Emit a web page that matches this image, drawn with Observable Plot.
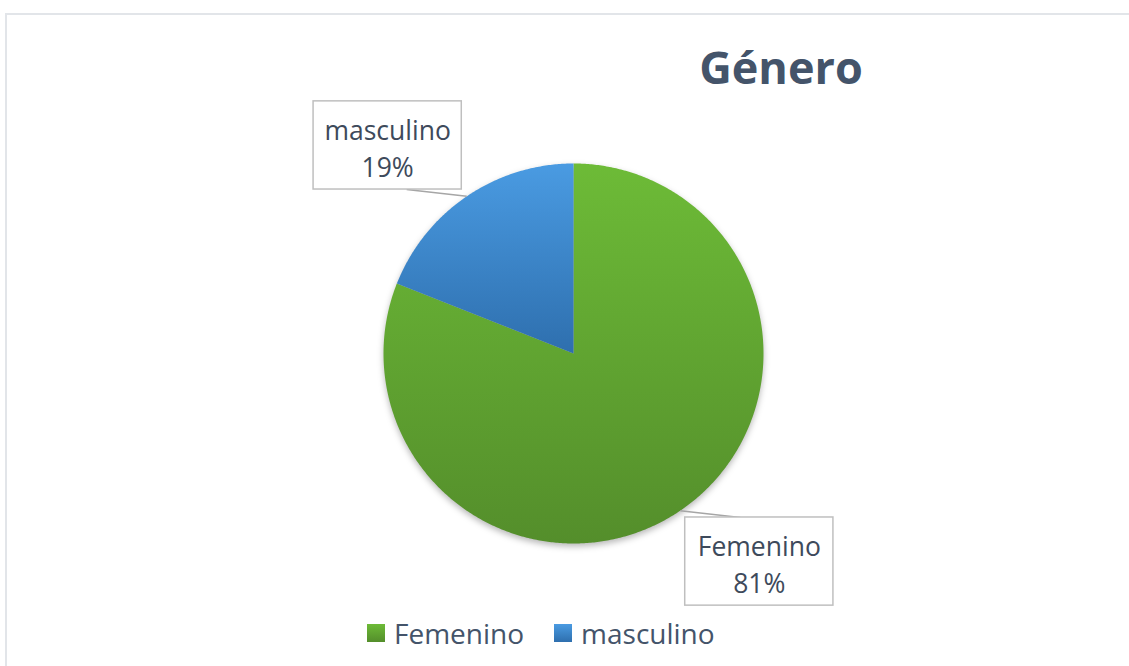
<!DOCTYPE html>
<html><head><meta charset="utf-8">
<script src="https://cdn.jsdelivr.net/npm/d3@7"></script>
<script src="https://cdn.jsdelivr.net/npm/@observablehq/plot@0.6"></script>
<style>
body{margin:0;background:#fff;}
#wrap{position:relative;width:1129px;height:666px;overflow:hidden;font-family:"Open Sans",sans-serif;}
#frame{position:absolute;left:5px;top:13px;width:1200px;height:800px;border-left:2px solid #E2E5E9;border-top:2px solid #E2E5E9;pointer-events:none;}
#title{position:absolute;left:681px;width:200px;top:45px;text-align:center;font-size:45px;line-height:44px;font-weight:700;color:#44546A;}
#legend{position:absolute;left:367px;top:614px;height:38px;display:flex;align-items:center;font-size:28px;color:#44546A;}
.li{display:flex;align-items:center;margin-right:30px;}
.sw{width:18px;height:18px;margin-right:9px;}
#chart{position:absolute;left:0;top:0;}
</style></head>
<body><div id="wrap"><div id="chart"></div><div id="title">Género</div><div id="legend"></div><div id="frame"></div></div>
<script>
const categories = ["Femenino", "masculino"];
const values = [81, 19];
const topColors = ["#6DBB37", "#4A9BE2"];
const bottomColors = ["#548E2B", "#2E6FAE"];

const total = d3.sum(values);
const arcs = d3.pie().sort(null).value(d => d.v)(categories.map((c, i) => ({c, v: values[i]})));
const poly = [];
arcs.forEach(a => {
  poly.push({c: a.data.c, x: 0, y: 0});
  const n = Math.ceil((a.endAngle - a.startAngle) / (Math.PI / 360));
  for (let k = 0; k <= n; k++) {
    const t = a.startAngle + (a.endAngle - a.startAngle) * k / n;
    poly.push({c: a.data.c, x: Math.sin(t), y: Math.cos(t)});
  }
});
const hw = 0.39, hh = 0.232;
const labels = arcs.map(a => {
  const m = (a.startAngle + a.endAngle) / 2;
  const s = Math.sin(m), co = Math.cos(m);
  const lx = 1.74 * s, ly = 1.324 * co;
  return {
    c: a.data.c, pct: Math.round(a.data.v / total * 100),
    ex: s, ey: co, lx, ly,
    tx: lx - Math.sign(s) * 0.1, ty: ly - Math.sign(co) * hh
  };
});

const W = 1129, H = 666, cx = 573, cy = 353, R = 190;
const svg = Plot.plot({
  width: W, height: H,
  marginLeft: cx - R, marginRight: W - cx - R, marginTop: cy - R, marginBottom: H - cy - R,
  style: {background: "transparent", fontFamily: "Open Sans, sans-serif"},
  x: {domain: [-1, 1], axis: null},
  y: {domain: [-1, 1], axis: null},
  color: {type: "ordinal", domain: categories, range: categories.map((c, i) => `url(#grad${i})`)},
  marks: [
    Plot.line(poly, {x: "x", y: "y", z: "c", fill: "c", stroke: null, curve: "linear-closed"}),
    Plot.link(labels, {x1: "ex", y1: "ey", x2: "tx", y2: "ty", stroke: "#A6A6A6", strokeWidth: 1.5}),
    Plot.rect(labels, {x1: d => d.lx - hw, x2: d => d.lx + hw, y1: d => d.ly - hh, y2: d => d.ly + hh, fill: "white", stroke: "#BFBFBF", strokeWidth: 1.5}),
    Plot.text(labels, {x: "lx", y: "ly", text: d => `${d.c}\n${d.pct}%`, fontSize: 26.5, lineHeight: 1.4, dy: 1, fill: "#3E4A5B"})
  ]
});
const ns = "http://www.w3.org/2000/svg";
const defs = document.createElementNS(ns, "defs");
categories.forEach((c, i) => {
  const g = document.createElementNS(ns, "linearGradient");
  g.setAttribute("id", `grad${i}`);
  g.setAttribute("x1", "0"); g.setAttribute("y1", "0"); g.setAttribute("x2", "0"); g.setAttribute("y2", "1");
  [[0, topColors[i]], [1, bottomColors[i]]].forEach(([o, col]) => {
    const s = document.createElementNS(ns, "stop");
    s.setAttribute("offset", o); s.setAttribute("stop-color", col);
    g.appendChild(s);
  });
  defs.appendChild(g);
});
svg.insertBefore(defs, svg.firstChild);
const lineG = svg.querySelector('g[aria-label="line"]');
if (lineG) lineG.style.filter = "drop-shadow(0px 3px 3px rgba(0,0,0,0.28))";
document.getElementById("chart").appendChild(svg);

const legend = document.getElementById("legend");
categories.forEach((c, i) => {
  const it = document.createElement("div"); it.className = "li";
  const sw = document.createElement("div"); sw.className = "sw";
  sw.style.background = `linear-gradient(${topColors[i]}, ${bottomColors[i]})`;
  const tx = document.createElement("span"); tx.textContent = c;
  it.appendChild(sw); it.appendChild(tx); legend.appendChild(it);
});
</script></body></html>
